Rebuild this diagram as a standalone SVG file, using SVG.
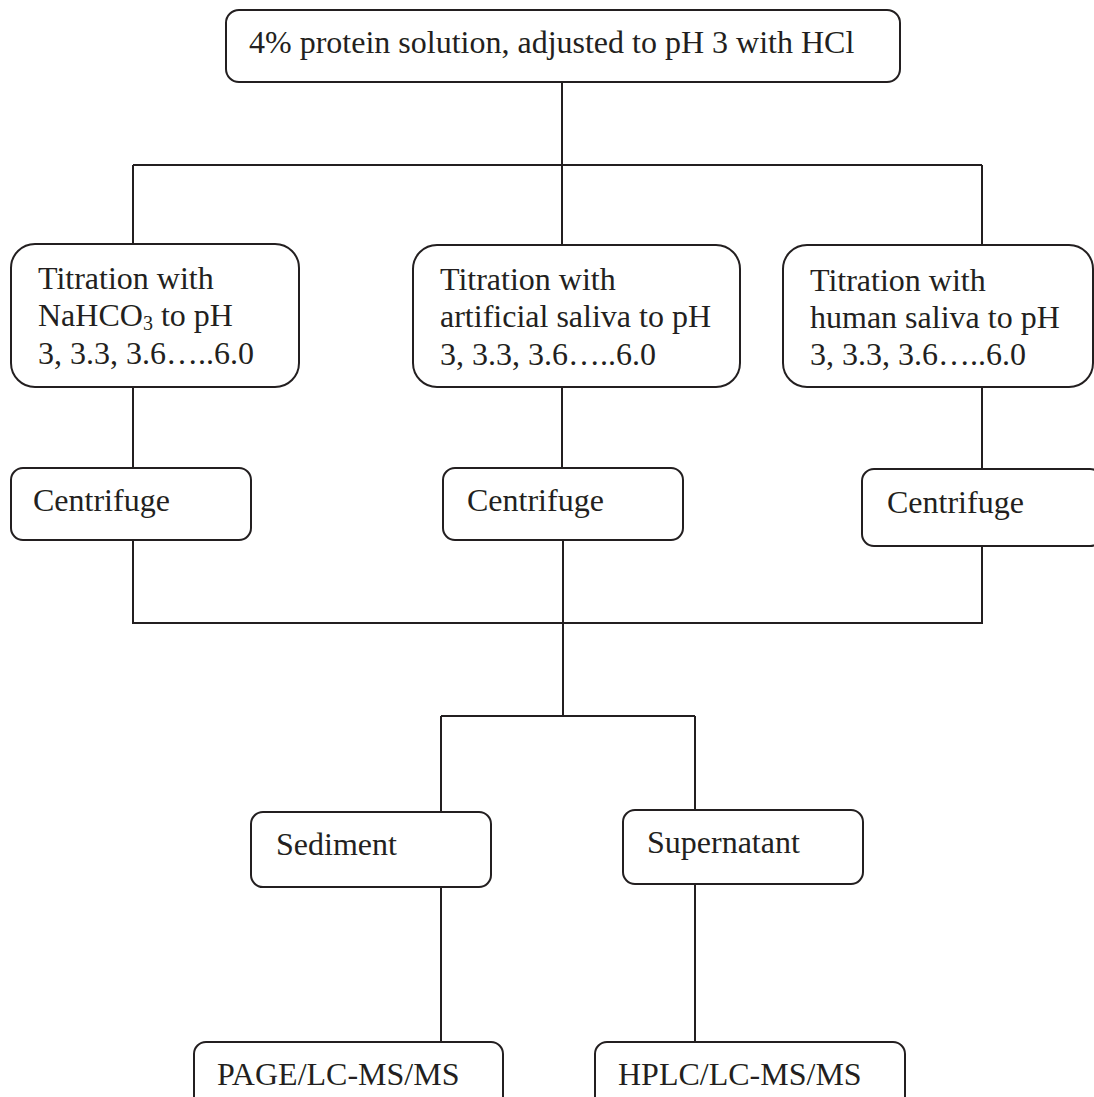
<svg xmlns="http://www.w3.org/2000/svg" width="1094" height="1097" viewBox="0 0 1094 1097">
<style>
.box{fill:#fff;stroke:#231f20;stroke-width:2}
.t{font-family:"Liberation Serif","Times New Roman",serif;font-size:32px;fill:#231f20}
.c{fill:none;stroke:#231f20;stroke-width:2}
</style>
<rect width="1094" height="1097" fill="#fff"/>
<g id="connectors" class="c">
<path d="M562 82V165M133 165H982M133 165V244M562 165V245M982 165V245"/>
<path d="M133 387V468M562 387V468M982 387V469"/>
<path d="M133 540V623H982V546M563 540V716M441 716H695M441 716V812M695 716V810"/>
<path d="M441 887V1042M695 884V1042"/>
</g>
<g id="top"><rect class="box" x="226" y="10" width="674" height="72" rx="13"/><text class="t" x="249" y="53">4% protein solution, adjusted to pH 3 with HCl</text></g>
<g id="t1"><rect class="box" x="11" y="244" width="288" height="143" rx="24"/><text class="t" x="38" y="289">Titration with</text><text class="t" x="38" y="326">NaHCO<tspan font-size="20" dy="4">3</tspan><tspan dy="-4"> to pH</tspan></text><text class="t" x="38" y="364">3, 3.3, 3.6…..6.0</text></g>
<g id="t2"><rect class="box" x="413" y="245" width="327" height="142" rx="24"/><text class="t" x="440" y="290">Titration with</text><text class="t" x="440" y="327">artificial saliva to pH</text><text class="t" x="440" y="365">3, 3.3, 3.6…..6.0</text></g>
<g id="t3"><rect class="box" x="783" y="245" width="310" height="142" rx="24"/><text class="t" x="810" y="291">Titration with</text><text class="t" x="810" y="328">human saliva to pH</text><text class="t" x="810" y="365">3, 3.3, 3.6…..6.0</text></g>
<g id="c1"><rect class="box" x="11" y="468" width="240" height="72" rx="12"/><text class="t" x="33" y="511">Centrifuge</text></g>
<g id="c2"><rect class="box" x="443" y="468" width="240" height="72" rx="12"/><text class="t" x="467" y="511">Centrifuge</text></g>
<g id="c3"><rect class="box" x="862" y="469" width="240" height="77" rx="12"/><text class="t" x="887" y="513">Centrifuge</text></g>
<g id="sed"><rect class="box" x="251" y="812" width="240" height="75" rx="12"/><text class="t" x="276" y="855">Sediment</text></g>
<g id="sup"><rect class="box" x="623" y="810" width="240" height="74" rx="12"/><text class="t" x="647" y="853">Supernatant</text></g>
<g id="page"><rect class="box" x="194" y="1042" width="309" height="70" rx="12"/><text class="t" x="217" y="1085">PAGE/LC-MS/MS</text></g>
<g id="hplc"><rect class="box" x="595" y="1042" width="310" height="70" rx="12"/><text class="t" x="618" y="1085">HPLC/LC-MS/MS</text></g>
</svg>
